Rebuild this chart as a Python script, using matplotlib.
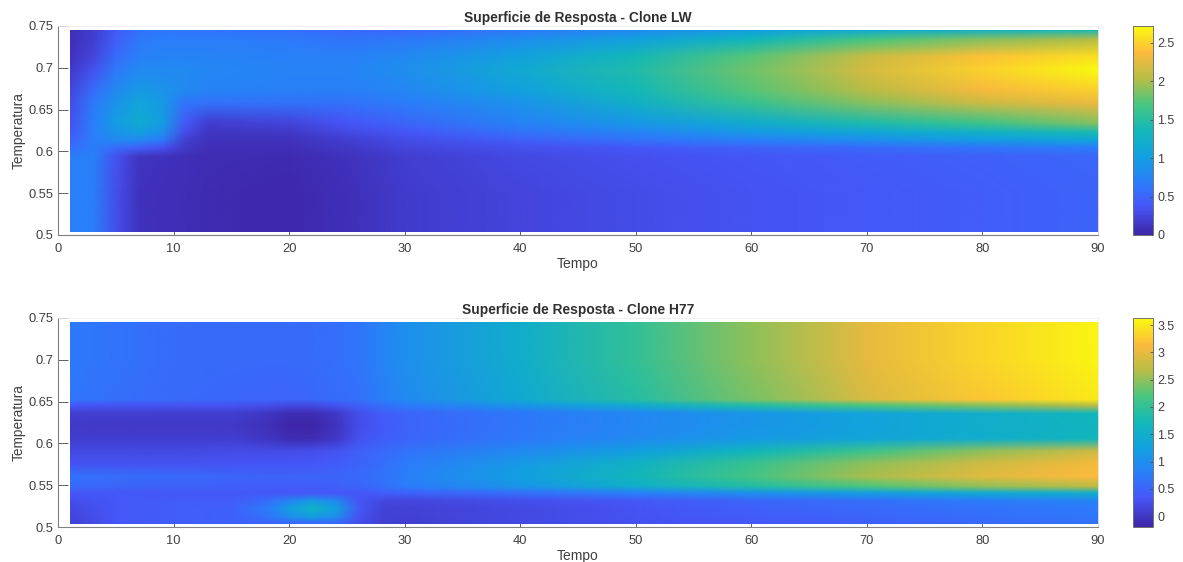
import numpy as np
import matplotlib
matplotlib.use("Agg")
import matplotlib.pyplot as plt
from matplotlib.colors import LinearSegmentedColormap, Normalize
from matplotlib.image import NonUniformImage
from matplotlib.patches import Rectangle

plt.rcParams['font.family'] = ['Liberation Sans', 'DejaVu Sans']

# Clone LW
tempo_lw = [1, 3, 5, 7, 9, 11, 13, 20, 25, 30, 40, 50, 60, 70, 80, 90]
temp_lw = [0.505, 0.55, 0.593, 0.604, 0.613, 0.622, 0.634, 0.658, 0.673, 0.697, 0.713, 0.733, 0.745]
z_lw = [
    [.72, .70, .32, .10, .08, .07, .05, .03, .08, .18, .25, .30, .36, .40, .44, .48],
    [.72, .70, .32, .10, .08, .07, .05, .03, .08, .18, .25, .30, .36, .40, .44, .48],
    [.70, .72, .35, .12, .10, .08, .06, .05, .10, .20, .28, .33, .38, .42, .46, .50],
    [.55, .70, .55, .45, .35, .15, .08, .08, .15, .25, .33, .40, .48, .55, .62, .70],
    [.45, .70, .80, .80, .65, .20, .10, .10, .20, .30, .45, .60, .72, .85, .98, 1.1],
    [.40, .70, .90, 1.0, .85, .30, .12, .15, .28, .38, .60, .75, .95, 1.1, 1.25, 1.4],
    [.35, .70, 1.0, 1.15, 1.0, .40, .20, .25, .38, .50, .75, .95, 1.2, 1.45, 1.65, 1.9],
    [.30, .65, .90, 1.1, .95, .62, .60, .60, .60, .68, .90, 1.25, 1.6, 1.9, 2.15, 2.3],
    [.25, .55, .80, .95, .90, .80, .75, .72, .72, .78, 1.05, 1.38, 1.75, 2.05, 2.35, 2.5],
    [.15, .35, .65, .80, .80, .80, .78, .75, .75, .85, 1.15, 1.45, 1.82, 2.18, 2.5, 2.72],
    [.10, .25, .55, .72, .75, .75, .75, .72, .72, .80, 1.05, 1.38, 1.75, 2.12, 2.42, 2.58],
    [.08, .20, .45, .65, .70, .70, .70, .66, .62, .65, .85, 1.05, 1.35, 1.7, 1.9, 2.05],
    [.08, .20, .42, .60, .62, .62, .60, .58, .52, .52, .65, .80, 1.0, 1.15, 1.25, 1.4],
]

# Clone H77
tempo_h77 = [1, 5, 10, 15, 18, 20, 22, 24, 26, 28, 30, 40, 50, 60, 70, 80, 90]
temp_h77 = [0.505, 0.512, 0.522, 0.53, 0.54, 0.548, 0.56, 0.575, 0.59, 0.605, 0.62, 0.635, 0.645, 0.652, 0.70, 0.745]
z_h77 = [
    [.10, .35, .42, .45, .50, .55, .60, .55, .25, .10, .08, .20, .28, .35, .45, .55, .65],
    [.15, .35, .42, .45, .65, 1.0, 1.25, 1.0, .30, .12, .10, .20, .30, .40, .50, .60, .70],
    [.20, .35, .42, .45, .75, 1.2, 1.6, 1.25, .38, .12, .10, .20, .30, .45, .55, .65, .75],
    [.25, .35, .40, .42, .60, .90, 1.2, .95, .32, .18, .15, .25, .35, .50, .60, .75, .85],
    [.35, .35, .35, .35, .35, .35, .35, .35, .35, .40, .45, .60, .80, 1.0, 1.2, 1.4, 1.5],
    [.55, .50, .45, .45, .40, .40, .42, .45, .50, .62, .75, 1.1, 1.5, 1.85, 2.2, 2.5, 2.7],
    [.65, .60, .55, .50, .48, .48, .50, .50, .55, .65, .80, 1.25, 1.7, 2.15, 2.6, 2.95, 3.15],
    [.30, .30, .30, .32, .33, .33, .35, .40, .50, .60, .75, 1.15, 1.6, 2.05, 2.5, 2.85, 3.1],
    [.20, .20, .20, .22, .22, .22, .25, .30, .45, .55, .65, .95, 1.25, 1.7, 2.1, 2.5, 2.85],
    [.08, .08, .08, .08, -.02, -.12, -.12, 0, .28, .42, .50, .72, .95, 1.15, 1.35, 1.5, 1.7],
    [.02, .02, .02, .02, -.08, -.20, -.22, -.05, .25, .38, .48, .70, .90, 1.1, 1.3, 1.5, 1.65],
    [.08, .08, .08, .08, -.02, -.12, -.12, 0, .25, .40, .50, .70, .90, 1.1, 1.3, 1.5, 1.7],
    [.35, .32, .30, .30, .25, .20, .20, .30, .45, .60, .75, 1.1, 1.45, 1.85, 2.2, 2.45, 2.7],
    [.68, .62, .55, .52, .50, .50, .52, .58, .62, .80, .95, 1.42, 1.9, 2.4, 2.9, 3.25, 3.5],
    [.72, .66, .58, .56, .56, .56, .58, .62, .68, .85, 1.0, 1.5, 2.0, 2.5, 3.0, 3.35, 3.6],
    [.72, .66, .58, .56, .56, .56, .58, .62, .68, .85, 1.0, 1.5, 2.0, 2.5, 3.0, 3.35, 3.6],
]

xticks = [0, 10, 20, 30, 40, 50, 60, 70, 80, 90]
yticks = [0.5, 0.55, 0.6, 0.65, 0.7, 0.75]
ylabels = ['0.5', '0.55', '0.6', '0.65', '0.7', '0.75']
cticks_lw = [0, 0.5, 1, 1.5, 2, 2.5]
clabels_lw = ['0', '0.5', '1', '1.5', '2', '2.5']
cticks_h77 = [0, 0.5, 1, 1.5, 2, 2.5, 3, 3.5]
clabels_h77 = ['0', '0.5', '1', '1.5', '2', '2.5', '3', '3.5']

# parula aproximado
parula = LinearSegmentedColormap.from_list("parula", [
    (0.0, (0.242, 0.150, 0.660)),
    (0.14, (0.275, 0.340, 0.975)),
    (0.25, (0.170, 0.490, 0.985)),
    (0.375, (0.070, 0.630, 0.880)),
    (0.5, (0.070, 0.720, 0.730)),
    (0.625, (0.280, 0.780, 0.500)),
    (0.75, (0.720, 0.740, 0.270)),
    (0.875, (0.990, 0.730, 0.240)),
    (1.0, (0.980, 0.980, 0.060)),
], N=256)

W, H = 1183, 562
GREY = '#404040'


def Panel(fig, top, bottom, tempo, temp, z, vmin, vmax, title, cticks, clabels):
    ax = fig.add_axes([58 / W, 1 - bottom / H, 1040 / W, (bottom - top) / H])
    im = NonUniformImage(ax, interpolation='bilinear', cmap=parula,
                         norm=Normalize(vmin, vmax), zorder=1)
    im.set_data(np.array(tempo, float), np.array(temp, float), np.array(z, float))
    ax.add_image(im)
    im.set_clip_path(Rectangle((tempo[0], temp[0]), tempo[-1] - tempo[0], temp[-1] - temp[0],
                               transform=ax.transData))
    ax.set_xlim(0, 90)
    ax.set_ylim(0.5, 0.75)
    ax.set_axisbelow(True)
    ax.set_xticks(xticks)
    ax.set_yticks(yticks, ylabels)
    ax.tick_params(axis='both', direction='in', length=7.2, width=0.7, color='#606060',
                   labelsize=9.3, labelcolor=GREY)
    ax.tick_params(axis='x', pad=6)
    ax.tick_params(axis='y', pad=3)
    for s in ['left', 'bottom']:
        ax.spines[s].set_color('#808080')
        ax.spines[s].set_linewidth(0.8)
    for s in ['top', 'right']:
        ax.spines[s].set_color('#ececec')
        ax.spines[s].set_linewidth(0.6)
    ax.set_xlabel('Tempo', fontsize=10, color=GREY, labelpad=1.5)
    ax.set_ylabel('Temperatura', fontsize=9.8, color=GREY, labelpad=2)
    ax.set_title(title, fontsize=9.9, fontweight='bold', color='#303030', pad=3)

    cax = fig.add_axes([1133 / W, 1 - bottom / H, 20 / W, (bottom - top) / H])
    cb = fig.colorbar(im, cax=cax)
    cb.set_ticks(cticks, labels=clabels)
    cb.ax.tick_params(direction='in', length=2, width=0.6, color='#505050',
                      labelsize=9, labelcolor=GREY, pad=3)
    cb.outline.set_edgecolor('#707070')
    cb.outline.set_linewidth(0.7)


fig = plt.figure(figsize=(W / 100, H / 100), dpi=100)
Panel(fig, 26, 235, tempo_lw, temp_lw, z_lw, 0, 2.72,
      'Superficie de Resposta - Clone LW', cticks_lw, clabels_lw)
Panel(fig, 318, 527, tempo_h77, temp_h77, z_h77, -0.2, 3.63,
      'Superficie de Resposta - Clone H77', cticks_h77, clabels_h77)
fig.savefig('out.png', dpi=100)
